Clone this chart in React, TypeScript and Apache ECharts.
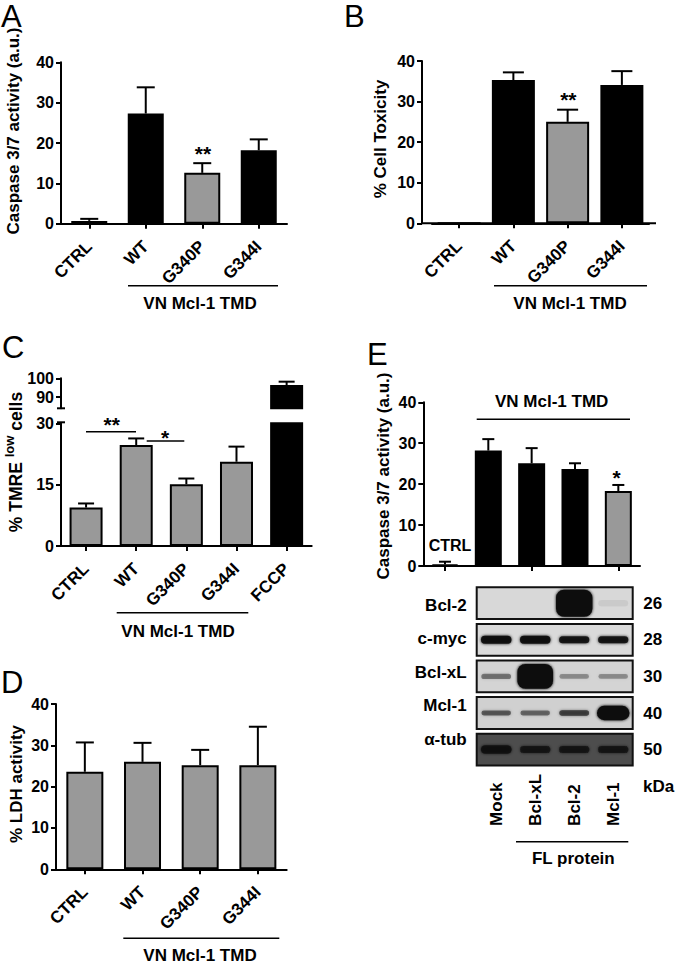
import React, { useEffect, useRef } from 'react';
import * as echarts from 'echarts';

const FONT = "'Liberation Sans', Arial, Helvetica, sans-serif";

// ---------- Data ----------
// Panel A: Caspase 3/7 activity
const aCats = ['CTRL', 'WT', 'G340P', 'G344I'];
const aVals = [0.7, 27.3, 12.6, 18.2];
const aErrs = [0.5, 6.5, 2.4, 2.7];

// Panel B: % Cell Toxicity
const bCats = ['CTRL', 'WT', 'G340P', 'G344I'];
const bVals = [0, 35.3, 25.0, 34.1];
const bErrs = [0, 1.9, 3.0, 3.4];

// Panel C: % TMRE low cells (broken axis)
const cCats = ['CTRL', 'WT', 'G340P', 'G344I', 'FCCP'];
const cVals = [9.4, 24.7, 15.1, 20.6, 96.4];
const cErrs = [1.0, 1.6, 1.4, 3.7, 1.8];

// Panel D: % LDH activity
const dCats = ['CTRL', 'WT', 'G340P', 'G344I'];
const dVals = [23.6, 26.0, 25.2, 25.2];
const dErrs = [7.1, 4.6, 3.7, 9.3];

// Panel E: Caspase 3/7 activity with FL proteins
const eCats = ['CTRL', 'Mock', 'Bcl-xL', 'Bcl-2', 'Mcl-1'];
const eVals = [0.4, 28.2, 25.1, 23.7, 18.3];
const eErrs = [0.65, 2.8, 3.7, 1.4, 1.5];

// Panel E: western blot
const blotRows = ['Bcl-2', 'c-myc', 'Bcl-xL', 'Mcl-1', 'α-tub'];
const blotKDa = ['26', '28', '30', '40', '50'];
const blotLanes = ['Mock', 'Bcl-xL', 'Bcl-2', 'Mcl-1'];
const bandDarkness = [
  [0, 0, 1, 0.06],
  [0.95, 0.95, 0.9, 0.9],
  [0.4, 1, 0.3, 0.3],
  [0.5, 0.45, 0.65, 1],
  [0.9, 0.8, 0.8, 0.8],
];
const bandThickness = [
  [0.2, 0.2, 0.85, 0.2],
  [0.25, 0.25, 0.22, 0.22],
  [0.17, 0.78, 0.15, 0.15],
  [0.15, 0.15, 0.17, 0.45],
  [0.25, 0.22, 0.22, 0.22],
];

// ---------- Styles ----------
const BLACK = '#000';
const GRAY = '#999';
const fillsA = [BLACK, BLACK, GRAY, BLACK];
const fillsB = [BLACK, BLACK, GRAY, BLACK];
const fillsC = [GRAY, GRAY, GRAY, GRAY, BLACK];
const fillsD = [GRAY, GRAY, GRAY, GRAY];
const fillsE = [BLACK, BLACK, BLACK, BLACK, GRAY];
const blotBg = ['#d8d8d8', '#dadada', '#d4d4d4', '#d0d0d0', '#4d4d4d'];

const AXIS_LINE = { show: true, lineStyle: { color: BLACK, width: 2 } };
const AXIS_TICK = { show: true, length: 5, lineStyle: { color: BLACK, width: 2 } };
const Y_LABEL = { color: BLACK, fontSize: 16, fontWeight: 'bold', fontFamily: FONT, margin: 7 };
const X_LABEL = { color: BLACK, fontSize: 17, fontWeight: 'bold', fontFamily: FONT, rotate: 45, margin: 20, interval: 0 };

const catAxis = (gi: number, cats: string[], showLabels = true, showLine = true, show = true) => ({
  type: 'category', gridIndex: gi, data: cats, boundaryGap: true, show,
  axisLine: showLine ? AXIS_LINE : { show: false },
  axisTick: { ...AXIS_TICK, alignWithLabel: true },
  axisLabel: showLabels ? X_LABEL : { show: false },
  splitLine: { show: false },
});

const valAxis = (gi: number, min: number, max: number, interval: number, extra: any = {}) => ({
  type: 'value', gridIndex: gi, min, max, interval,
  axisLine: AXIS_LINE,
  axisTick: AXIS_TICK,
  axisLabel: Y_LABEL,
  splitLine: { show: false },
  ...extra,
});

const barSeries = (gi: number, vals: (number | null)[], fills: string[], bw: number) => ({
  type: 'bar', xAxisIndex: gi, yAxisIndex: gi, barWidth: bw, clip: true, z: 2,
  itemStyle: { borderColor: BLACK, borderWidth: 2 },
  data: vals.map((v, i) => ({ value: v, itemStyle: { color: fills[i] } })),
});

const errSeries = (gi: number, vals: number[], errs: number[], capW: number, keep: (v: number) => boolean) => ({
  type: 'custom', xAxisIndex: gi, yAxisIndex: gi, z: 3, clip: false,
  encode: { x: 0, y: 1 },
  data: vals.map((v, i) => [i, v, errs[i]]).filter((d) => keep(d[1])),
  renderItem: (_p: any, api: any) => {
    const i = api.value(0);
    const v = api.value(1);
    const e = api.value(2);
    if (!(e > 0)) return { type: 'group', children: [] };
    const p0 = api.coord([i, v]);
    const p1 = api.coord([i, v + e]);
    const h = capW / 2;
    const st = { stroke: BLACK, lineWidth: 2 };
    return {
      type: 'group',
      children: [
        { type: 'line', shape: { x1: p0[0], y1: p0[1], x2: p1[0], y2: p1[1] }, style: st },
        { type: 'line', shape: { x1: p1[0] - h, y1: p1[1], x2: p1[0] + h, y2: p1[1] }, style: st },
      ],
    };
  },
});

const txt = (text: string, x: number, y: number, o: any = {}) => ({
  type: 'text', x, y, rotation: o.rotation || 0, silent: true, z: 10,
  style: {
    text, fill: BLACK, fontSize: o.size || 17, fontWeight: o.weight || 'bold', fontFamily: FONT,
    align: o.align || 'center', verticalAlign: o.va || 'middle', rich: o.rich,
  },
});
const ln = (x1: number, y1: number, x2: number, y2: number, w = 1.5) => ({
  type: 'line', silent: true, z: 10, shape: { x1, y1, x2, y2 }, style: { stroke: BLACK, lineWidth: w },
});

const ROT = Math.PI / 2;

function buildOption(): any {
  const grid = [
    { left: 61, top: 62.3, width: 226, height: 161.4 }, // 0 A
    { left: 432, top: 61, width: 217, height: 162.3 }, // 1 B
    { left: 61, top: 423.3, width: 250.7, height: 122.7 }, // 2 C lower
    { left: 61, top: 378.3, width: 250.7, height: 30 }, // 3 C upper
    { left: 56, top: 704, width: 230.7, height: 165.3 }, // 4 D
    { left: 423.3, top: 402.3, width: 216.7, height: 163.7 }, // 5 E
    { left: 476.7, top: 584.9, width: 156, height: 183 }, // 6 blot
    { left: 476.7, top: 588.2, width: 156, height: 168 }, // 7 blot row labels
  ];

  const xAxis = [
    catAxis(0, aCats),
    catAxis(1, bCats),
    catAxis(2, cCats),
    catAxis(3, cCats, false, false, false),
    catAxis(4, dCats),
    catAxis(5, eCats, false),
    {
      type: 'category', gridIndex: 6, data: blotLanes, position: 'bottom',
      axisLine: { show: false }, axisTick: { show: false }, splitLine: { show: false },
      axisLabel: { color: BLACK, fontSize: 17, fontWeight: 'bold', fontFamily: FONT, rotate: 90, align: 'left', verticalAlign: 'middle', margin: 58, interval: 0 },
    },
    { type: 'category', gridIndex: 7, data: blotLanes, show: false },
  ];

  const yAxis = [
    valAxis(0, 0, 40, 10),
    valAxis(1, 0, 40, 10, { offset: 10 }),
    valAxis(2, 0, 30, 15),
    {
      type: 'value', gridIndex: 3, min: 84, max: 100,
      axisLine: AXIS_LINE,
      axisTick: { ...AXIS_TICK, customValues: [90, 100] },
      axisLabel: { ...Y_LABEL, customValues: [90, 100] },
      splitLine: { show: false },
    },
    valAxis(4, 0, 40, 10),
    valAxis(5, 0, 40, 10),
    {
      type: 'category', gridIndex: 6, data: blotRows, inverse: true,
      axisLine: { show: false }, axisTick: { show: false }, axisLabel: { show: false }, splitLine: { show: false },
    },
    {
      type: 'category', gridIndex: 7, data: blotRows, inverse: true,
      axisLine: { show: false }, axisTick: { show: false }, splitLine: { show: false },
      axisLabel: { color: BLACK, fontSize: 17, fontWeight: 'bold', fontFamily: FONT, margin: 10, interval: 0 },
    },
    {
      type: 'category', gridIndex: 6, data: blotKDa, inverse: true, position: 'right',
      axisLine: { show: false }, axisTick: { show: false }, splitLine: { show: false },
      axisLabel: { color: BLACK, fontSize: 17, fontWeight: 'bold', fontFamily: FONT, margin: 10.6, interval: 0 },
    },
  ];

  const cLowerMax = 30;
  const cUpperMin = 84;

  const blotSeries = {
    type: 'custom', xAxisIndex: 6, yAxisIndex: 6, z: 2, clip: false,
    encode: { x: 0, y: 1 },
    data: blotRows.map((_, r) => [0, r]),
    renderItem: (params: any, api: any) => {
      const r = api.value(1);
      const cs = params.coordSys;
      const band = api.size([1, 1]);
      const laneW = band[0];
      const rowH = band[1];
      const ph = rowH * 0.87;
      const c0 = api.coord([0, r]);
      const children: any[] = [
        { type: 'rect', shape: { x: cs.x, y: c0[1] - ph / 2, width: cs.width, height: ph }, style: { fill: blotBg[r], stroke: '#111', lineWidth: 2 } },
      ];
      blotLanes.forEach((_, l) => {
        const d = bandDarkness[r][l];
        const t = bandThickness[r][l];
        if (d <= 0) return;
        const c = api.coord([l, r]);
        const w = laneW * (0.72 + 0.25 * t);
        const h = ph * t;
        children.push({
          type: 'rect',
          shape: { x: c[0] - w / 2, y: c[1] - h / 2, width: w, height: h, r: Math.min(h / 2, 8) },
          style: { fill: `rgba(12,12,12,${d})`, shadowBlur: 3, shadowColor: `rgba(12,12,12,${d})` },
        });
      });
      return { type: 'group', children };
    },
  };

  const series: any[] = [
    barSeries(0, aVals, fillsA, 36), errSeries(0, aVals, aErrs, 18, () => true),
    barSeries(1, bVals, fillsB, 43), errSeries(1, bVals, bErrs, 21, () => true),
    barSeries(2, cVals, fillsC, 33), errSeries(2, cVals, cErrs, 16, (v) => v < cLowerMax),
    barSeries(3, cVals.map((v) => (v > cUpperMin ? v : null)), fillsC, 33), errSeries(3, cVals, cErrs, 16, (v) => v > cUpperMin),
    barSeries(4, dVals, fillsD, 37), errSeries(4, dVals, dErrs, 18, () => true),
    barSeries(5, eVals, fillsE, 27), errSeries(5, eVals, eErrs, 12, () => true),
    blotSeries,
  ];

  const graphic: any[] = [
    // panel letters
    txt('A', 1, 16, { size: 31, weight: 'normal', align: 'left' }),
    txt('B', 344, 16.7, { size: 31, weight: 'normal', align: 'left' }),
    txt('C', 2, 347.5, { size: 31, weight: 'normal', align: 'left' }),
    txt('D', 1, 682.5, { size: 31, weight: 'normal', align: 'left' }),
    txt('E', 367, 354, { size: 31, weight: 'normal', align: 'left' }),
    // axis titles
    txt('Caspase 3/7 activity (a.u.)', 13, 131, { rotation: ROT }),
    txt('% Cell Toxicity', 380, 139, { rotation: ROT }),
    {
      type: 'text', x: 16, y: 462, rotation: ROT, silent: true, z: 10,
      style: {
        text: '{n|% TMRE }{s|low}{n| cells}', fill: BLACK, align: 'center', verticalAlign: 'middle',
        rich: {
          n: { fontSize: 17.5, fontWeight: 'bold', fontFamily: FONT, fill: BLACK, lineHeight: 26 },
          s: { fontSize: 13, fontWeight: 'bold', fontFamily: FONT, fill: BLACK, lineHeight: 13, verticalAlign: 'top' },
        },
      },
    },
    txt('% LDH activity', 16.7, 784, { rotation: ROT }),
    txt('Caspase 3/7 activity (a.u.)', 383.3, 476, { rotation: ROT }),
    // group brackets
    ln(128, 285.7, 278, 285.7), txt('VN Mcl-1 TMD', 200, 303),
    ln(494, 285.7, 647, 285.7), txt('VN Mcl-1 TMD', 570, 303),
    ln(116.7, 612.7, 248.3, 612.7), txt('VN Mcl-1 TMD', 178, 631.7),
    ln(123.3, 938.3, 279.3, 938.3), txt('VN Mcl-1 TMD', 200, 955),
    txt('VN Mcl-1 TMD', 551.7, 401.7), ln(476.7, 419.3, 630, 419.3),
    ln(516, 841.7, 628.3, 841.7), txt('FL protein', 573.3, 858.3),
    // significance
    txt('**', 203, 153.4, { size: 21 }),
    txt('**', 568.3, 99.4, { size: 21 }),
    txt('**', 111.7, 424.4, { size: 21 }), ln(86, 431.7, 136, 431.7),
    txt('*', 165, 437.1, { size: 21 }), ln(146.7, 441, 184.3, 441),
    txt('*', 616.7, 477.7, { size: 21 }),
    // misc labels
    txt('CTRL', 450, 545, { size: 16 }),
    txt('kDa', 643, 786.7, { align: 'left' }),
    // axis break caps (C) and B axis extension
    ln(57, 408.3, 65, 408.3, 2), ln(57, 422.3, 65, 422.3, 2),
    ln(421.7, 223.3, 656, 223.3, 2),
  ];

  return { animation: false, backgroundColor: '#fff', grid, xAxis, yAxis, series, graphic };
}

export default function App() {
  const ref = useRef<HTMLDivElement>(null);
  useEffect(() => {
    const chart = echarts.init(ref.current!, undefined, { renderer: 'svg', width: 677, height: 963 });
    chart.setOption(buildOption());
    return () => chart.dispose();
  }, []);
  return <div ref={ref} style={{ position: 'absolute', left: 0, top: 0, width: 677, height: 963, background: '#fff' }} />;
}
